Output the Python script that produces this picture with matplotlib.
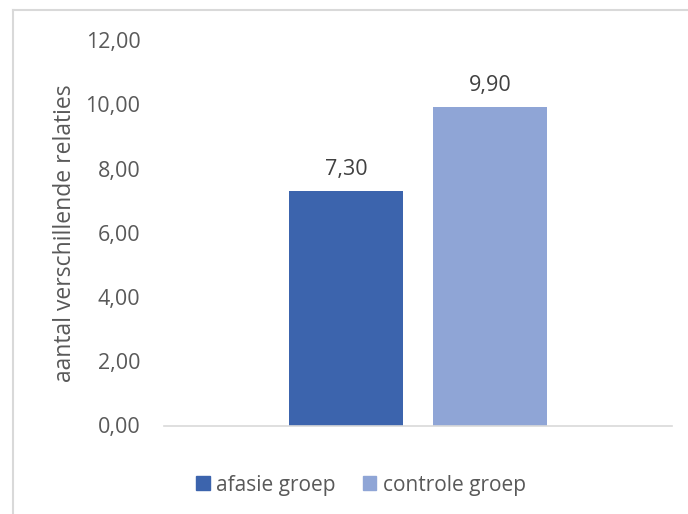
import matplotlib.pyplot as plt
from matplotlib.lines import Line2D
from matplotlib.patches import Patch

# data
groups = ['afasie groep', 'controle groep']
values = [7.30, 9.90]
colors = ['#3C64AD', '#8FA5D6']
yticks = [0, 2, 4, 6, 8, 10, 12]

plt.rcParams['font.family'] = ['Open Sans', 'DejaVu Sans']
fs = 15.5

fig = plt.figure(figsize=(6.88, 5.14), dpi=100)
ax = fig.add_axes([164/688, 1 - 425.5/514, 508/688, 385.5/514])

offsets = [-0.1417, 0.1417]
width = 0.2244
for off, v, c, g in zip(offsets, values, colors, groups):
    ax.bar(off, v, width=width, color=c, label=g)
    ax.annotate(f'{v:.2f}'.replace('.', ','), (off, v), xytext=(0, 8),
                textcoords='offset points', ha='center', va='bottom',
                fontsize=fs, color='#404040')

ax.set_xlim(-0.5, 0.5)
ax.set_ylim(0, 12)
ax.set_yticks(yticks)
ax.set_yticklabels([f'{t:.2f}'.replace('.', ',') for t in yticks])
ax.set_xticks([])
ax.tick_params(axis='y', length=0, pad=17, labelsize=fs, labelcolor='#595959')
for s in ['top', 'right', 'left']:
    ax.spines[s].set_visible(False)
ax.spines['bottom'].set_color('#D9D9D9')
ax.spines['bottom'].set_linewidth(1.2)

ax.set_ylabel('aantal verschillende relaties', fontsize=16.5, color='#595959')
ax.yaxis.set_label_coords(-0.172, 0.5)

handles = [Patch(color=c) for c in colors]
fig.legend(handles, groups, loc='center', bbox_to_anchor=(361/688, 1 - 485/514),
           ncol=2, frameon=False, fontsize=15, labelcolor='#595959',
           handlelength=0.65, handleheight=0.65, handletextpad=0.3, columnspacing=1.3)

# chart area border (top and left visible)
fig.add_artist(Line2D([13/688, 13/688], [0, 1 - 10/514], color='#D9D9D9', lw=1.5))
fig.add_artist(Line2D([13/688, 1], [1 - 10/514, 1 - 10/514], color='#D9D9D9', lw=1.5))

fig.savefig('out.png', dpi=100)
